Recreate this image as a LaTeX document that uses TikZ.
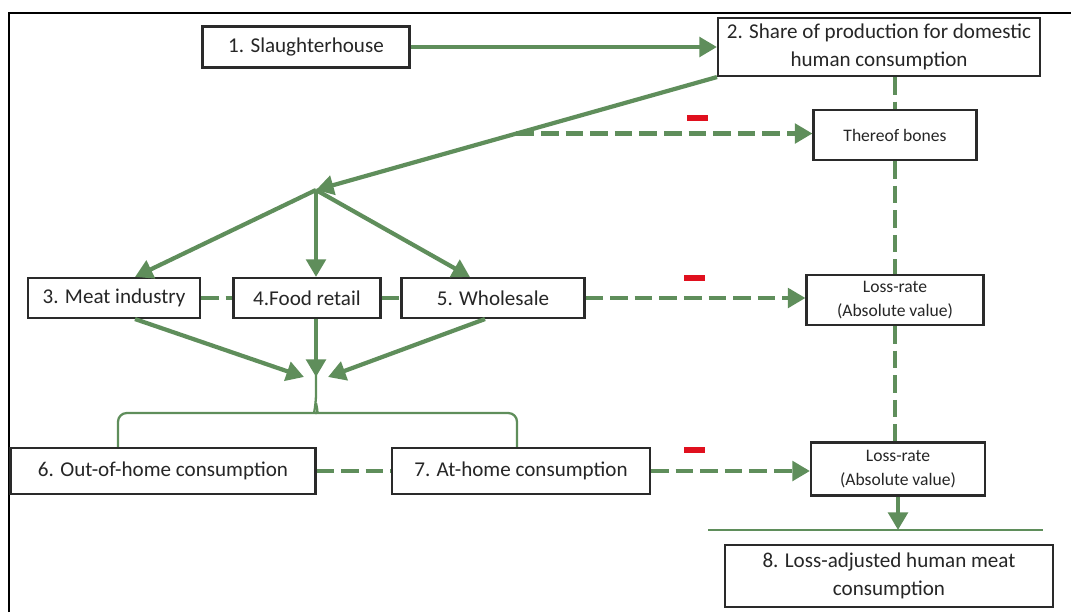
\documentclass[tikz,border=0pt]{standalone}
\usepackage{fontspec}
\setmainfont{Carlito}
\usetikzlibrary{arrows.meta,positioning,calc}
\definecolor{flowgreen}{HTML}{5F8E5B}
\definecolor{minusred}{HTML}{E0101E}
\definecolor{boxgray}{HTML}{2A2A2A}

\begin{document}
\begin{tikzpicture}[x=0.02cm, y=-0.02cm,
  box/.style={draw=boxgray, line width=1.2pt, fill=white, inner sep=2pt, align=center,
    text=black!85, font=\fontsize{12}{16}\selectfont},
  smallbox/.style={box, font=\fontsize{10}{14}\selectfont},
  flow/.style={flowgreen, line width=2.4pt, -{Triangle[length=10pt,width=11pt]}},
  loss/.style={flowgreen, line width=2.4pt, dash pattern=on 10pt off 4pt},
  lossarrow/.style={loss, -{Triangle[length=10pt,width=11pt]}},
  bracket/.style={flowgreen, line width=1.3pt},
  minus/.style={fill=minusred, minimum width=0.42cm, minimum height=0.12cm, inner sep=0pt}]
  \useasboundingbox (0,0) rectangle (1071,612);
  \draw[line width=1.7pt] (9,612) -- (9,13) -- (1071,13);

  % supply chain stages
  \node[box, minimum width=4.14cm, minimum height=0.82cm] (slaughter) at (306,47) {1. Slaughterhouse};
  \node[box, minimum width=6.44cm, minimum height=1.16cm] (share) at (879,47) {2. Share of production for domestic\\human consumption};
  \node[box, minimum width=3.44cm, minimum height=0.8cm] (meat) at (114,298) {3. Meat industry};
  \node[box, minimum width=2.94cm, minimum height=0.8cm] (retail) at (307,298) {4.Food retail};
  \node[box, minimum width=3.66cm, minimum height=0.8cm] (whole) at (493,298) {5. Wholesale};
  \node[box, minimum width=6.1cm, minimum height=0.92cm] (outhome) at (163,471) {6. Out-of-home consumption};
  \node[box, minimum width=5.16cm, minimum height=0.92cm] (athome) at (521,471) {7. At-home consumption};
  \node[box, minimum width=6.56cm, minimum height=1.24cm] (adjusted) at (889,576) {8. Loss-adjusted human meat\\consumption};

  % deductions on the right
  \node[smallbox, minimum width=3.26cm, minimum height=1.0cm] (bones) at (895,135) {Thereof bones};
  \node[smallbox, minimum width=3.54cm, minimum height=1.0cm] (lossA) at (895,300) {Loss-rate\\(Absolute value)};
  \node[smallbox, minimum width=3.48cm, minimum height=1.06cm] (lossB) at (898,469) {Loss-rate\\(Absolute value)};

  \coordinate (split) at (316,190);
  \coordinate (merge) at (316,377);
  \coordinate (baseL) at (708,530);
  \coordinate (baseR) at (1043,530);

  % main flow
  \draw[flow] (slaughter.east) -- (share.west);
  \draw[flow] (share.south west) -- (split);
  \draw[flow] (split) -- ($(meat.north)+(21,0)$);
  \draw[flow] (split) -- (split |- retail.north);
  \draw[flow] (split) -- ($(whole.north)+(-23,0)$);
  \draw[flow] ($(meat.south)+(21,0)$) -- ($(merge)+(-12,0)$);
  \draw[flow] (split |- retail.south) -- (merge);
  \draw[flow] ($(whole.south)+(-8,0)$) -- ($(merge)+(12,0)$);

  % bracket over consumption
  \draw[bracket, rounded corners=5] (outhome.north -| 118,0) |- (308,413) .. controls (314,413) .. (316,403) -- ($(merge)+(0,-6)$);
  \draw[bracket, rounded corners=5] (athome.north -| 517,0) |- (324,413) .. controls (318,413) .. (316,403);

  % losses
  \coordinate (tap) at ($(share.south west)!0.5!(split)$);
  \draw[lossarrow] (tap) -- (tap -| bones.west);
  \draw[loss] (meat.east) -- (retail.west);
  \draw[loss] (retail.east) -- (whole.west);
  \draw[lossarrow] (whole.east) -- (whole.east -| lossA.west);
  \draw[loss] (outhome.east) -- (athome.west);
  \draw[lossarrow] (athome.east) -- (athome.east -| lossB.west);
  \node[minus] (m1) at (697,118) {};
  \node[minus] (m2) at (694,278) {};
  \node[minus] (m3) at (694,450) {};

  \draw[loss] (share.south -| bones) -- (bones.north);
  \draw[loss] (bones.south) -- (bones.south |- lossA.north);
  \draw[loss] (lossA.south) -- (lossA.south |- lossB.north);
  \draw[flow] (lossB.south) -- (lossB.south |- baseL);
  \draw[bracket] (baseL) -- (baseR);
\end{tikzpicture}
\end{document}
